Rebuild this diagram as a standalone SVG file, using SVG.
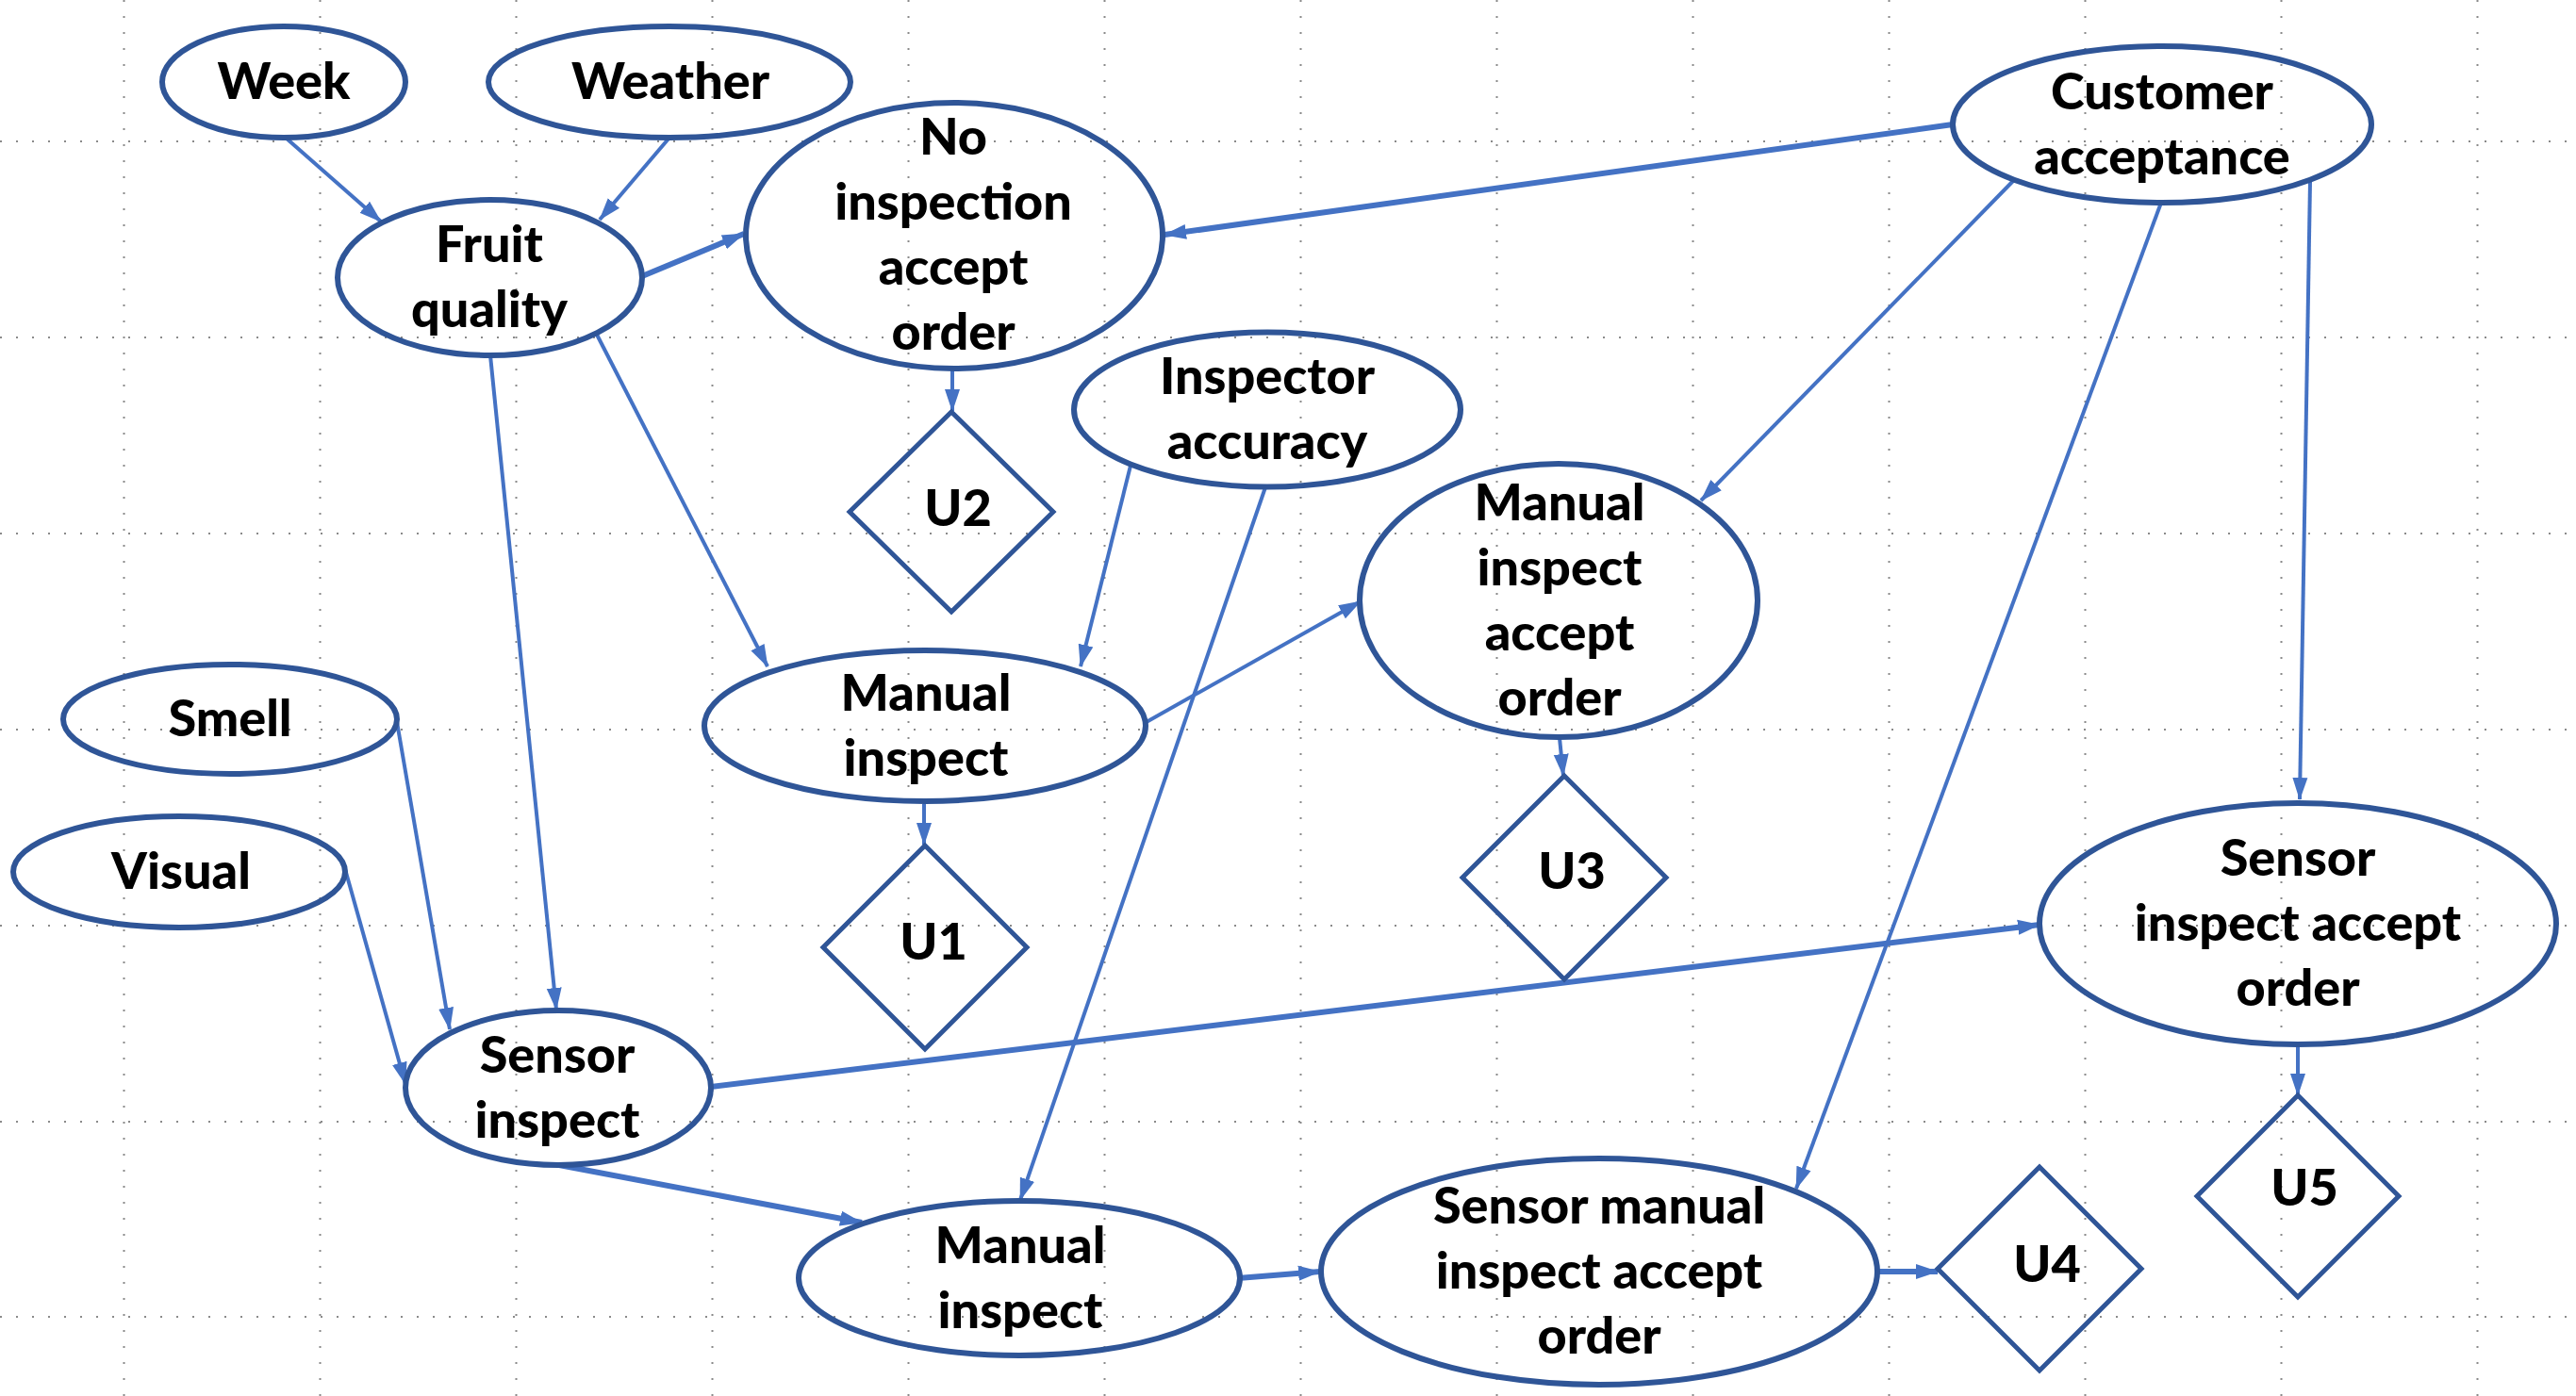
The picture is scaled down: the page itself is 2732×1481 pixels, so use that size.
<svg xmlns="http://www.w3.org/2000/svg" width="2732" height="1481" viewBox="0 0 2732 1481">
<style>
.grid line{stroke:#8a8a8a;stroke-width:2;stroke-dasharray:2 15}
.node ellipse,.node polygon{fill:none;stroke:#2F5597;stroke-width:6}
.node polygon{stroke-width:5}
text{font-family:Lato,"Open Sans","Liberation Sans",sans-serif;font-weight:900;font-size:54px;fill:#000;text-anchor:middle}
.edges line{stroke:#4472C4;stroke-width:4;marker-end:url(#ah)}
.edges line.thick{stroke-width:6}
</style>
<defs>
<marker id="ah" markerUnits="userSpaceOnUse" markerWidth="24" markerHeight="20" viewBox="0 0 24 20" refX="23" refY="10" orient="auto">
<path d="M0,2 L24,10 L0,18 Z" fill="#4472C4"/>
</marker>
</defs>
<rect width="2732" height="1481" fill="#fff"/>
<g class="grid">
<line x1="0" y1="150" x2="2732" y2="150"/>
<line x1="0" y1="358" x2="2732" y2="358"/>
<line x1="0" y1="566" x2="2732" y2="566"/>
<line x1="0" y1="774" x2="2732" y2="774"/>
<line x1="0" y1="982" x2="2732" y2="982"/>
<line x1="0" y1="1190" x2="2732" y2="1190"/>
<line x1="0" y1="1397" x2="2732" y2="1397"/>
<line x1="131.5" y1="0" x2="131.5" y2="1481"/>
<line x1="339.5" y1="0" x2="339.5" y2="1481"/>
<line x1="547.5" y1="0" x2="547.5" y2="1481"/>
<line x1="755.5" y1="0" x2="755.5" y2="1481"/>
<line x1="963.5" y1="0" x2="963.5" y2="1481"/>
<line x1="1171.5" y1="0" x2="1171.5" y2="1481"/>
<line x1="1379.5" y1="0" x2="1379.5" y2="1481"/>
<line x1="1587.5" y1="0" x2="1587.5" y2="1481"/>
<line x1="1795.5" y1="0" x2="1795.5" y2="1481"/>
<line x1="2003.5" y1="0" x2="2003.5" y2="1481"/>
<line x1="2211.5" y1="0" x2="2211.5" y2="1481"/>
<line x1="2419.5" y1="0" x2="2419.5" y2="1481"/>
<line x1="2627.5" y1="0" x2="2627.5" y2="1481"/>
</g>
<g class="edges">
<line x1="304" y1="147" x2="404" y2="235"/>
<line x1="710" y1="146" x2="636" y2="233"/>
<line class="thick" x1="681" y1="293" x2="789" y2="248"/>
<line class="thick" x1="2071" y1="132" x2="1235" y2="249"/>
<line x1="1010" y1="389" x2="1010" y2="436"/>
<line x1="633" y1="355" x2="814" y2="707"/>
<line x1="520" y1="377" x2="590" y2="1071"/>
<line x1="1199" y1="494" x2="1146" y2="707"/>
<line x1="1342" y1="517" x2="1082" y2="1273"/>
<line x1="2135" y1="192" x2="1804" y2="531"/>
<line x1="2292" y1="215" x2="1905" y2="1261"/>
<line x1="2450" y1="193" x2="2439" y2="848"/>
<line x1="1214" y1="767" x2="1443" y2="638"/>
<line x1="1654" y1="783" x2="1658" y2="823"/>
<line x1="980" y1="853" x2="980" y2="896"/>
<line x1="421" y1="766" x2="477" y2="1092"/>
<line x1="366" y1="922" x2="430" y2="1150"/>
<line class="thick" x1="754" y1="1153" x2="2163" y2="981"/>
<line class="thick" x1="593" y1="1236" x2="914" y2="1297"/>
<line class="thick" x1="1313" y1="1356" x2="1400" y2="1349"/>
<line class="thick" x1="1993" y1="1349" x2="2055" y2="1349"/>
<line x1="2437" y1="1109" x2="2437" y2="1162"/>
</g>
<g id="week" class="node"><ellipse cx="301" cy="87" rx="129" ry="59"/><text x="301" y="105">Week</text></g>
<g id="weather" class="node"><ellipse cx="710" cy="87" rx="192" ry="59"/><text x="711" y="105">Weather</text></g>
<g id="fruit-quality" class="node"><ellipse cx="519.5" cy="294.5" rx="161.5" ry="82.5"/><text x="519" y="278">Fruit</text><text x="519" y="347">quality</text></g>
<g id="no-inspection" class="node"><ellipse cx="1012" cy="250" rx="221" ry="141"/><text x="1011" y="164">No</text><text x="1011" y="233">inspection</text><text x="1011" y="302">accept</text><text x="1011" y="371">order</text></g>
<g id="u2" class="node"><polygon points="1009,437 1117,543 1009,649 901,543"/><text x="1016" y="558">U2</text></g>
<g id="inspector-accuracy" class="node"><ellipse cx="1344" cy="434.5" rx="205" ry="82"/><text x="1344" y="418">Inspector</text><text x="1344" y="487">accuracy</text></g>
<g id="customer-acceptance" class="node"><ellipse cx="2293" cy="132" rx="222" ry="83"/><text x="2293" y="116">Customer</text><text x="2293" y="185">acceptance</text></g>
<g id="manual-inspect-accept-order" class="node"><ellipse cx="1653" cy="637" rx="211" ry="145"/><text x="1654" y="552">Manual</text><text x="1654" y="621">inspect</text><text x="1654" y="690">accept</text><text x="1654" y="759">order</text></g>
<g id="u3" class="node"><polygon points="1659,823 1767,931 1659,1039 1551,931"/><text x="1667" y="943">U3</text></g>
<g id="manual-inspect-1" class="node"><ellipse cx="981" cy="770" rx="234" ry="80"/><text x="982" y="754">Manual</text><text x="982" y="823">inspect</text></g>
<g id="u1" class="node"><polygon points="981,897 1089,1005 981,1113 873,1005"/><text x="990" y="1018">U1</text></g>
<g id="smell" class="node"><ellipse cx="244" cy="763" rx="177" ry="58"/><text x="244" y="781">Smell</text></g>
<g id="visual" class="node"><ellipse cx="190" cy="925" rx="176" ry="59"/><text x="192" y="943">Visual</text></g>
<g id="sensor-inspect" class="node"><ellipse cx="592" cy="1154" rx="162" ry="82"/><text x="591" y="1138">Sensor</text><text x="591" y="1207">inspect</text></g>
<g id="manual-inspect-2" class="node"><ellipse cx="1081" cy="1356" rx="234" ry="82"/><text x="1082" y="1340">Manual</text><text x="1082" y="1409">inspect</text></g>
<g id="sensor-manual-inspect-accept-order" class="node"><ellipse cx="1696" cy="1349" rx="295" ry="120"/><text x="1696" y="1298">Sensor manual</text><text x="1696" y="1367">inspect accept</text><text x="1696" y="1436">order</text></g>
<g id="u4" class="node"><polygon points="2163,1238 2271,1346 2163,1454 2055,1346"/><text x="2171" y="1360">U4</text></g>
<g id="sensor-inspect-accept-order" class="node"><ellipse cx="2437" cy="980" rx="274" ry="128"/><text x="2437" y="929">Sensor</text><text x="2437" y="998">inspect accept</text><text x="2437" y="1067">order</text></g>
<g id="u5" class="node"><polygon points="2437,1162 2544,1269 2437,1376 2330,1269"/><text x="2444" y="1279">U5</text></g>
</svg>
